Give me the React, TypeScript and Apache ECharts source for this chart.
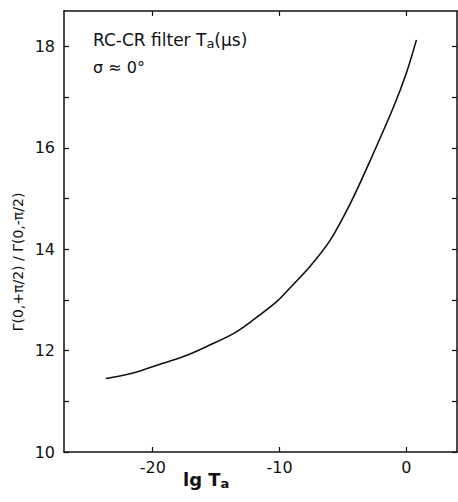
import React, { useEffect, useRef } from "react";
import * as echarts from "echarts";

const lgTa = [-23.7, -22.6, -21.0, -19.2, -17.3, -15.5, -13.6, -12.1, -10.2, -9.2, -7.6, -6.0, -4.4, -2.9, -1.0, 0.0, 0.8];
const ratio = [11.45, 11.5, 11.6, 11.75, 11.91, 12.11, 12.34, 12.6, 12.97, 13.23, 13.66, 14.18, 14.91, 15.72, 16.81, 17.47, 18.13];
const xTicks = [-20, -10, 0];
const yTicks = [10, 11, 12, 13, 14, 15, 16, 17, 18];
const yLabels = [10, 12, 14, 16, 18];

const FONT = "DejaVu Sans";

export default function App() {
  const ref = useRef<HTMLDivElement>(null);
  useEffect(() => {
    if (!ref.current) return;
    const chart = echarts.init(ref.current, null, { renderer: "svg" });
    const axisLine = { show: true, onZero: false, lineStyle: { color: "#111", width: 1.5 } };
    const tick = (vals: number[]) => ({ inside: true, length: 5, customValues: vals, lineStyle: { color: "#111", width: 1.2 } });
    chart.setOption({
      animation: false,
      backgroundColor: "#fff",
      grid: { left: 64, right: 1, top: 11, bottom: 50 },
      xAxis: [
        {
          type: "value",
          min: -27,
          max: 4,
          position: "bottom",
          axisLine,
          splitLine: { show: false },
          axisTick: tick(xTicks),
          axisLabel: { customValues: xTicks, color: "#111", fontSize: 16, fontFamily: FONT, margin: 7 },
        },
        {
          type: "value",
          min: -27,
          max: 4,
          position: "top",
          axisLine,
          splitLine: { show: false },
          axisTick: tick(xTicks),
          axisLabel: { show: false },
        },
      ],
      yAxis: [
        {
          type: "value",
          min: 10,
          max: 18.7,
          position: "left",
          axisLine,
          splitLine: { show: false },
          axisTick: tick(yTicks),
          axisLabel: { customValues: yLabels, color: "#111", fontSize: 16, fontFamily: FONT, margin: 9 },
        },
        {
          type: "value",
          min: 10,
          max: 18.7,
          position: "right",
          axisLine,
          splitLine: { show: false },
          axisTick: tick(yTicks),
          axisLabel: { show: false },
        },
      ],
      series: [
        {
          type: "line",
          data: lgTa.map((x, i) => [x, ratio[i]]),
          smooth: 0.3,
          showSymbol: false,
          lineStyle: { color: "#111", width: 1.6 },
        },
      ],
      graphic: [
        {
          type: "text",
          left: 93,
          top: 31,
          style: {
            text: "RC-CR filter T{sub|a}(μs)",
            fill: "#111",
            font: `17px ${FONT}`,
            rich: { sub: { fontSize: 13, fontFamily: FONT, fill: "#111", verticalAlign: "bottom", padding: [7, 0, 0, 0] } },
          },
        },
        {
          type: "text",
          left: 93,
          top: 59,
          style: { text: "σ ≈ 0°", fill: "#111", font: `16px ${FONT}` },
        },
        {
          type: "text",
          x: 18,
          y: 262,
          rotation: Math.PI / 2,
          style: {
            text: "Γ(0,+π/2) / Γ(0,-π/2)",
            fill: "#111",
            font: `14px ${FONT}`,
            align: "center",
            verticalAlign: "middle",
          },
        },
        {
          type: "text",
          left: 183,
          top: 470,
          style: {
            text: "lg T{sub|a}",
            fill: "#111",
            font: `bold 18px ${FONT}`,
            rich: { sub: { fontSize: 13, fontWeight: "bold", fontFamily: FONT, fill: "#111", verticalAlign: "bottom", padding: [8, 0, 0, 0] } },
          },
        },
      ],
    });
    return () => chart.dispose();
  }, []);
  return <div ref={ref} style={{ width: 458, height: 502, position: "absolute", left: 0, top: 0 }} />;
}
